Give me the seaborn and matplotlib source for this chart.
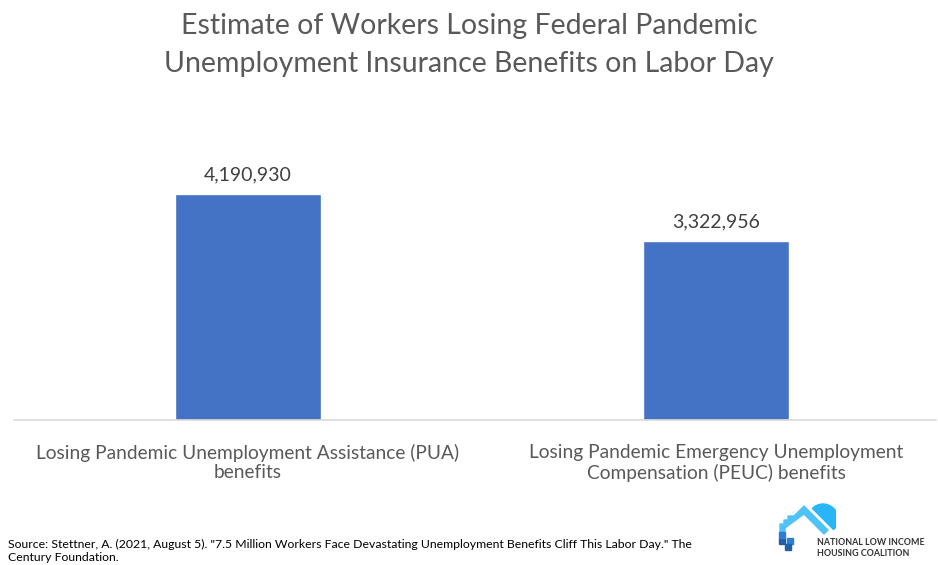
import matplotlib
matplotlib.use("Agg")
import matplotlib.pyplot as plt
import matplotlib.patches as mpatches
import pandas as pd
import seaborn as sns

categories = ["Losing Pandemic Unemployment Assistance (PUA)\nbenefits",
              "Losing Pandemic Emergency Unemployment\nCompensation (PEUC) benefits"]
workers = [4190930, 3322956]

df = pd.DataFrame({"category": categories, "workers": workers})

sns.set_style("white")
plt.rcParams["font.family"] = ["Lato", "DejaVu Sans"]

W, H = 938, 565
fig = plt.figure(figsize=(W / 100, H / 100), dpi=100)
# axes in pixel coordinates: left 14, right 950, baseline at 420, top at 150
ax = fig.add_axes([14 / W, (H - 420) / H, 936 / W, 270 / H])

sns.barplot(data=df, x="category", y="workers", color="#4472C4", width=0.31,
            saturation=1, ax=ax)
ax.set_ylim(0, 5e6)
ax.set_xlim(-0.5, 1.5)
for i, v in enumerate(workers):
    ax.text(i, v + 1.9e5, f"{v:,}", ha="center", va="bottom", fontsize=14, color="#404040")

ax.set_xlabel("")
ax.set_ylabel("")
ax.set_yticks([])
ax.tick_params(axis="x", length=0, pad=17, labelsize=13.8, labelcolor="#595959")
for s in ["top", "right", "left"]:
    ax.spines[s].set_visible(False)
ax.spines["bottom"].set_color("#D9D9D9")
ax.spines["bottom"].set_linewidth(1.2)
ax.spines["bottom"].set_bounds(-0.5, 1.47)

fig.text(0.5, 1 - 45 / H, "Estimate of Workers Losing Federal Pandemic\nUnemployment Insurance Benefits on Labor Day",
         ha="center", va="center", fontsize=20.5, color="#595959", linespacing=1.55)

fig.text(8 / W, 1 - 551 / H,
         "Source: Stettner, A. (2021, August 5). \"7.5 Million Workers Face Devastating Unemployment Benefits Cliff This Labor Day.\" The\nCentury Foundation.",
         ha="left", va="center", fontsize=8.8, color="#000000", linespacing=1.15)

# logo
lax = fig.add_axes([776 / W, (H - 552) / H, 60 / W, 50 / H])
lax.set_xlim(0, 60)
lax.set_ylim(0, 50)
lax.axis("off")
lax.add_patch(mpatches.Wedge((47, 33), 15, -45, 135, color="#29B6F6"))
lax.add_patch(mpatches.Polygon([[4, 14], [4, 28], [8, 28], [8, 32], [12, 32], [12, 36], [18, 36],
                                [28, 46], [52, 22], [48, 18], [28, 38], [9, 24], [9, 14]],
                               closed=True, color="#4FC3F7"))
for x, y, c in [(3, 8, "#1F5FA8"), (11, 8, "#2E7DD1"), (9, 2, "#1F5FA8"), (3, 14, "#2E7DD1")]:
    lax.add_patch(mpatches.Rectangle((x, y), 6, 6, color=c))
fig.text(817 / W, 1 - 548 / H, "NATIONAL LOW INCOME\nHOUSING COALITION", ha="left", va="center",
         fontsize=6.4, fontweight="bold", color="#333333", linespacing=1.3)

fig.savefig("out.png", dpi=100, facecolor="white")
